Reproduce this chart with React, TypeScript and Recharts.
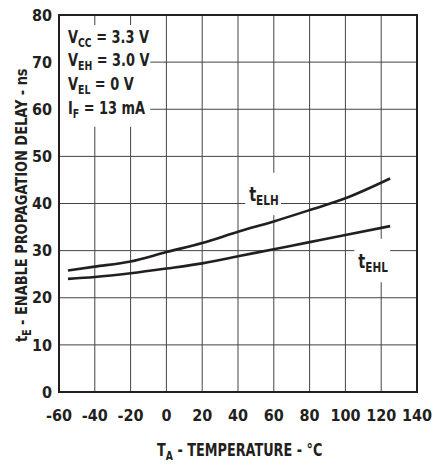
import React from "react";
import {
  CartesianGrid,
  Label,
  Line,
  LineChart,
  ReferenceArea,
  XAxis,
  YAxis,
} from "recharts";

const temps = [-55, -40, -20, 0, 20, 40, 60, 80, 100, 125];
const tELH = [25.8, 26.6, 27.7, 29.7, 31.6, 34.0, 36.2, 38.6, 41.1, 45.3];
const tEHL = [24.0, 24.4, 25.2, 26.2, 27.3, 28.8, 30.3, 31.8, 33.3, 35.2];
const xTicks = [-60, -40, -20, 0, 20, 40, 60, 80, 100, 120, 140];
const yTicks = [0, 10, 20, 30, 40, 50, 60, 70, 80];

const data = temps.map((t, i) => ({ t, elh: tELH[i], ehl: tEHL[i] }));

const FONT = '"Liberation Sans Narrow", "DejaVu Sans Condensed", sans-serif';
const INK = "#231f20";

// text squeezed horizontally to mimic the condensed face of the original
function Narrow({
  x,
  y,
  sx,
  rotate = 0,
  fontSize,
  children,
}: {
  x: number;
  y: number;
  sx: number;
  rotate?: number;
  fontSize: number;
  children: React.ReactNode;
}) {
  return (
    <g transform={`translate(${x} ${y}) rotate(${rotate}) scale(${sx} 1)`}>
      <text x={0} y={0} fill={INK} fontSize={fontSize} fontWeight={700} fontFamily={FONT}>
        {children}
      </text>
    </g>
  );
}

function Sub({ main, sub, rest }: { main: string; sub: string; rest?: string }) {
  return (
    <>
      <tspan>{main}</tspan>
      <tspan fontSize="0.72em" dy={4}>
        {sub}
      </tspan>
      {rest !== undefined && <tspan dy={-4}>{rest}</tspan>}
    </>
  );
}

const conditions = [
  { main: "V", sub: "CC", rest: " = 3.3 V" },
  { main: "V", sub: "EH", rest: " = 3.0 V" },
  { main: "V", sub: "EL", rest: " = 0 V" },
  { main: "I", sub: "F", rest: " = 13 mA" },
];

export default function App() {
  return (
    <div style={{ position: "absolute", left: 0, top: 0, background: "#fff" }}>
      <LineChart
        width={433}
        height={465}
        data={data}
        margin={{ top: 15, right: 16, left: 0, bottom: 43 }}
        style={{ fontFamily: FONT }}
      >
        <CartesianGrid stroke="#444" strokeWidth={1} vertical horizontal />
        <XAxis
          type="number"
          dataKey="t"
          domain={[-60, 140]}
          ticks={xTicks}
          interval={0}
          height={30}
          tickLine={false}
          axisLine={false}
          tickMargin={12}
          tick={{ fill: INK, fontSize: 16, fontWeight: 700, fontFamily: FONT }}
          label={
            <Label
              content={() => (
                <Narrow x={157} y={456} sx={0.84} fontSize={17}>
                  <Sub main="T" sub="A" rest=" - TEMPERATURE - °C" />
                </Narrow>
              )}
            />
          }
        />
        <YAxis
          type="number"
          domain={[0, 80]}
          ticks={yTicks}
          interval={0}
          width={59}
          tickLine={false}
          axisLine={false}
          tickMargin={1}
          tick={{ fill: INK, fontSize: 16, fontWeight: 700, fontFamily: FONT }}
          label={
            <Label
              content={() => (
                <Narrow x={27} y={342} sx={0.9} rotate={-90} fontSize={16}>
                  <Sub main="t" sub="E" rest=" - ENABLE PROPAGATION DELAY - ns" />
                </Narrow>
              )}
            />
          }
        />
        {/* white backing behind the condition block */}
        <ReferenceArea
          x1={-60}
          x2={-9}
          y1={56.3}
          y2={77.9}
          fill="#fff"
          fillOpacity={1}
          stroke="none"
          label={
            <Label
              content={(props: any) => {
                const vb = props?.viewBox;
                if (!vb) return null;
                return (
                  <g>
                    {conditions.map((c, i) => (
                      <Narrow key={c.sub} x={vb.x + 9} y={vb.y + 18 + i * 23.6} sx={0.8} fontSize={18}>
                        <Sub main={c.main} sub={c.sub} rest={c.rest} />
                      </Narrow>
                    ))}
                  </g>
                );
              }}
            />
          }
        />
        {/* white backing behind curve labels */}
        <ReferenceArea
          x1={44}
          x2={64}
          y1={37.5}
          y2={46.5}
          fill="#fff"
          fillOpacity={1}
          stroke="none"
          label={
            <Label
              content={(p: any) =>
                p?.viewBox ? (
                  <Narrow x={p.viewBox.x + 4} y={p.viewBox.y + p.viewBox.height / 2 + 7} sx={0.85} fontSize={19}>
                    <Sub main="t" sub="ELH" />
                  </Narrow>
                ) : null
              }
            />
          }
        />
        <ReferenceArea
          x1={105}
          x2={125}
          y1={23.3}
          y2={32.5}
          fill="#fff"
          fillOpacity={1}
          stroke="none"
          label={
            <Label
              content={(p: any) =>
                p?.viewBox ? (
                  <Narrow x={p.viewBox.x + 4} y={p.viewBox.y + p.viewBox.height / 2 + 7} sx={0.85} fontSize={19}>
                    <Sub main="t" sub="EHL" />
                  </Narrow>
                ) : null
              }
            />
          }
        />
        <Line
          dataKey="elh"
          type="monotone"
          stroke={INK}
          strokeWidth={2.6}
          dot={false}
          isAnimationActive={false}
        />
        <Line
          dataKey="ehl"
          type="monotone"
          stroke={INK}
          strokeWidth={2.6}
          dot={false}
          isAnimationActive={false}
        />
        {/* plot frame */}
        <ReferenceArea
          x1={-60}
          x2={140}
          y1={0}
          y2={80}
          fill="none"
          stroke={INK}
          strokeWidth={2}
        />
      </LineChart>
    </div>
  );
}
